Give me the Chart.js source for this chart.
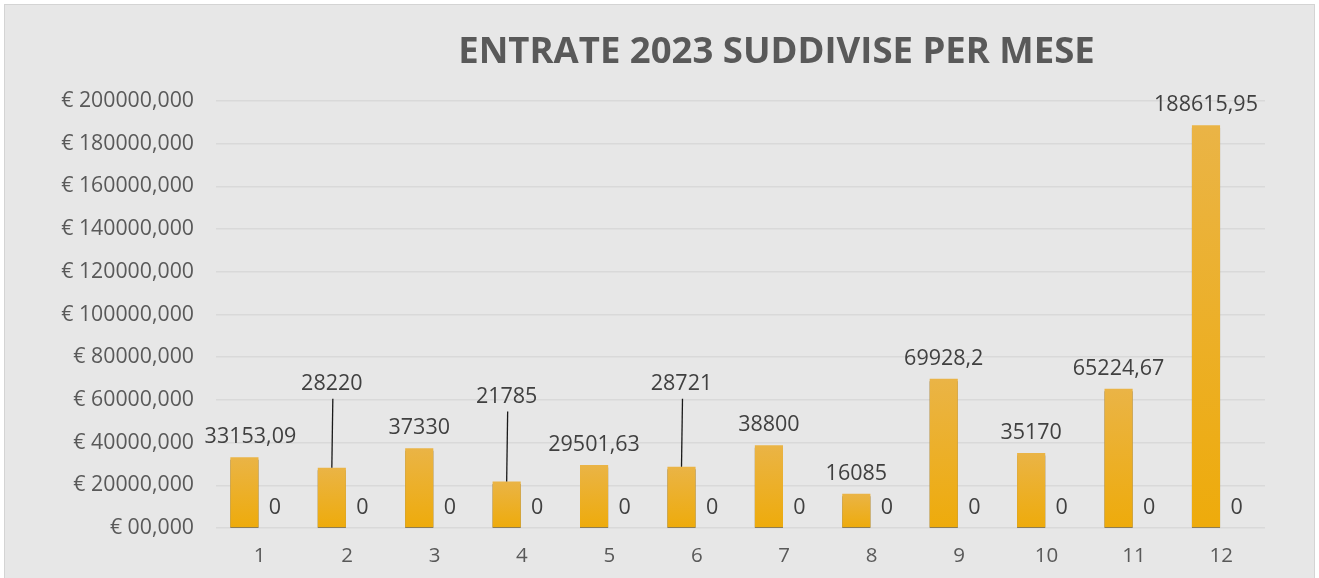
<!DOCTYPE html>
<html>
<head>
<meta charset="utf-8">
<script src="https://cdn.jsdelivr.net/npm/chart.js@4"></script>
<style>
  body { margin: 0; background: #ffffff; }
  canvas { display: block; }
</style>
</head>
<body>
<canvas id="myChart" width="1319" height="578"></canvas>
<script>
'use strict'

// Data
const months = ['1', '2', '3', '4', '5', '6', '7', '8', '9', '10', '11', '12'];
const entrate = [33153.09, 28220, 37330, 21785, 29501.63, 28721, 38800, 16085, 69928.2, 35170, 65224.67, 188615.95];
const seconda = [0, 0, 0, 0, 0, 0, 0, 0, 0, 0, 0, 0];
const yTicks = [0, 20000, 40000, 60000, 80000, 100000, 120000, 140000, 160000, 180000, 200000];
const chartTitle = 'ENTRATE 2023 SUDDIVISE PER MESE';

const fontName = '"Open Sans", "Noto Sans", sans-serif';

function euroTick(v) {
  return '€ ' + (v === 0 ? '00' : String(v)) + ',000';
}

function barGradient(context) {
  const chart = context.chart;
  const area = chart.chartArea;
  if (!area || context.raw === undefined) {
    return '#ebb13a';
  }
  const yScale = chart.scales.y;
  const top = yScale.getPixelForValue(context.raw);
  const base = yScale.getPixelForValue(0);
  if (base - top < 1) {
    return '#ebb13a';
  }
  const g = chart.ctx.createLinearGradient(0, top, 0, base);
  g.addColorStop(0, '#eab446');
  g.addColorStop(1, '#eeab0b');
  return g;
}

// panel background + title
const panelPlugin = {
  id: 'panel',
  beforeDraw(chart) {
    const ctx = chart.ctx;
    ctx.save();
    ctx.fillStyle = '#e7e7e7';
    ctx.fillRect(4, 4, chart.width - 8, chart.height);
    ctx.strokeStyle = '#d4d4d4';
    ctx.lineWidth = 1;
    ctx.strokeRect(4.5, 4.5, chart.width - 9, chart.height);
    ctx.restore();
  },
  afterDraw(chart) {
    const ctx = chart.ctx;
    const area = chart.chartArea;
    ctx.save();
    ctx.fillStyle = '#595959';
    ctx.font = 'bold 36.5px ' + fontName;
    ctx.textAlign = 'center';
    ctx.textBaseline = 'middle';
    ctx.fillText(chartTitle, (area.left + area.right) / 2 + 36, 53);
    ctx.restore();
  }
};

// soft shadow under the bars
const shadowPlugin = {
  id: 'barShadow',
  beforeDatasetDraw(chart, args) {
    if (args.index !== 0) return;
    const ctx = chart.ctx;
    ctx.save();
    ctx.shadowColor = 'rgba(90, 90, 90, 0.85)';
    ctx.shadowOffsetY = 2.5;
    ctx.shadowBlur = 0;
  },
  afterDatasetDraw(chart, args) {
    if (args.index !== 0) return;
    chart.ctx.restore();
  }
};

// value labels, some lifted with a leader line
const labelPlugin = {
  id: 'dataLabels',
  afterDatasetsDraw(chart, args, opts) {
    const ctx = chart.ctx;
    ctx.save();
    ctx.font = '21.5px ' + fontName;
    ctx.textAlign = 'center';
    ctx.textBaseline = 'middle';
    chart.data.datasets.forEach((ds, di) => {
      const meta = chart.getDatasetMeta(di);
      meta.data.forEach((bar, i) => {
        const lift = di === 0 ? (opts.lift[i] || 0) : 0;
        const shift = di === 0 ? (opts.shift[i] || 0) : 0;
        const ty = bar.y - opts.gap - lift;
        if (lift > 0) {
          ctx.strokeStyle = '#1a1a1a';
          ctx.lineWidth = 1.3;
          ctx.beginPath();
          ctx.moveTo(bar.x + 1, ty + 15);
          ctx.lineTo(bar.x, bar.y);
          ctx.stroke();
        }
        ctx.fillStyle = '#404040';
        ctx.fillText(String(ds.data[i]).replace('.', ','), bar.x + shift, ty);
      });
    });
    ctx.restore();
  }
};

const data = {
  labels: months,
  datasets: [{
    label: 'Entrate',
    data: entrate,
    backgroundColor: barGradient,
    borderWidth: 0,
    barPercentage: 0.92,
    categoryPercentage: 0.7
  },
  {
    label: 'Serie 2',
    data: seconda,
    backgroundColor: '#a5a5a5',
    borderWidth: 0,
    barPercentage: 0.92,
    categoryPercentage: 0.7
  }]
};

const config = {
  type: 'bar',
  data: data,
  options: {
    responsive: false,
    animation: false,
    layout: {
      padding: { left: 0, right: 54, top: 101, bottom: 0 }
    },
    scales: {
      x: {
        grid: { display: false, drawTicks: false },
        border: { display: false },
        ticks: {
          color: '#595959',
          font: { family: fontName, size: 20.5 },
          padding: 16
        },
        afterFit(scale) { scale.height = 50; }
      },
      y: {
        min: 0,
        max: 200000,
        grid: { color: '#d9d9d9', lineWidth: 1.5, drawTicks: false },
        border: { display: false },
        afterBuildTicks(scale) {
          scale.ticks = yTicks.map(v => ({ value: v }));
        },
        ticks: {
          color: '#595959',
          font: { family: fontName, size: 21.3 },
          padding: 22,
          callback: (v) => euroTick(v)
        },
        afterFit(scale) { scale.width = 216; }
      }
    },
    plugins: {
      legend: { display: false },
      title: { display: false },
      tooltip: { enabled: false },
      dataLabels: {
        gap: 20,
        lift: [0, 64, 0, 65, 0, 63, 0, 0, 0, 0, 0, 0],
        shift: [6, 0, 0, 0, 0, 0, 0, 0, 0, 0, 0, 0]
      }
    }
  },
  plugins: [panelPlugin, shadowPlugin, labelPlugin]
};

let canvasChart = document.getElementById('myChart');
const myChart = new Chart(canvasChart, config);
</script>
</body>
</html>
